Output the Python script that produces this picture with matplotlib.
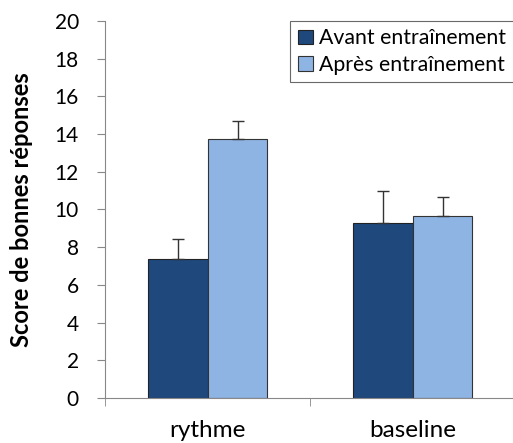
import numpy as np
import matplotlib
matplotlib.use("Agg")
import matplotlib.pyplot as plt

plt.rcParams['font.family'] = ['Lato', 'DejaVu Sans']

categories = ["rythme", "baseline"]
avant = [7.4, 9.3]
avant_err = [1.05, 1.7]
apres = [13.75, 9.65]
apres_err = [0.95, 1.0]
series_names = ["Avant entraînement", "Après entraînement"]
colors = ["#1f497d", "#8eb4e3"]

fig = plt.figure(figsize=(5.13, 4.43), dpi=100)
ax = fig.add_axes([0.205, 0.1016, 0.80, 0.851])

x = np.arange(len(categories))
w = 0.29
ax.bar(x - w/2, avant, w, color=colors[0], edgecolor="#222222", linewidth=0.8,
       yerr=[np.zeros(2), avant_err], error_kw=dict(ecolor="#333333", elinewidth=1.0, capsize=4, capthick=1.0),
       label=series_names[0])
ax.bar(x + w/2, apres, w, color=colors[1], edgecolor="#333333", linewidth=0.8,
       yerr=[np.zeros(2), apres_err], error_kw=dict(ecolor="#333333", elinewidth=1.0, capsize=4, capthick=1.0),
       label=series_names[1])

ax.set_xlim(-0.5, 1.49)
ax.set_ylim(0, 20)
ax.set_yticks(np.arange(0, 21, 2))
ax.set_xticks(x)
ax.set_xticks([-0.5, 0.5, 1.5], minor=True)
ax.set_xticklabels(categories, fontsize=17.5)
ax.tick_params(axis='y', labelsize=15, length=6, color="#888888", direction='out', pad=13)
ax.tick_params(axis='x', which='major', length=0, pad=16)
ax.tick_params(axis='x', which='minor', length=6, color="#888888", direction='out')
for s in ["top", "right"]:
    ax.spines[s].set_visible(False)
for s in ["left", "bottom"]:
    ax.spines[s].set_color("#888888")
ax.set_ylabel("Score de bonnes réponses", fontsize=17, fontweight='bold')
ax.yaxis.set_label_coords(-0.175, 0.5)

leg = ax.legend(loc='upper right', bbox_to_anchor=(0.995, 1.0), fontsize=15.3, frameon=True,
                fancybox=False, edgecolor="#444444", handlelength=0.7, handleheight=0.7,
                handletextpad=0.3, borderaxespad=0.0, labelspacing=0.3, borderpad=0.35)
leg.get_frame().set_linewidth(0.8)

fig.savefig("out.png", dpi=100)
